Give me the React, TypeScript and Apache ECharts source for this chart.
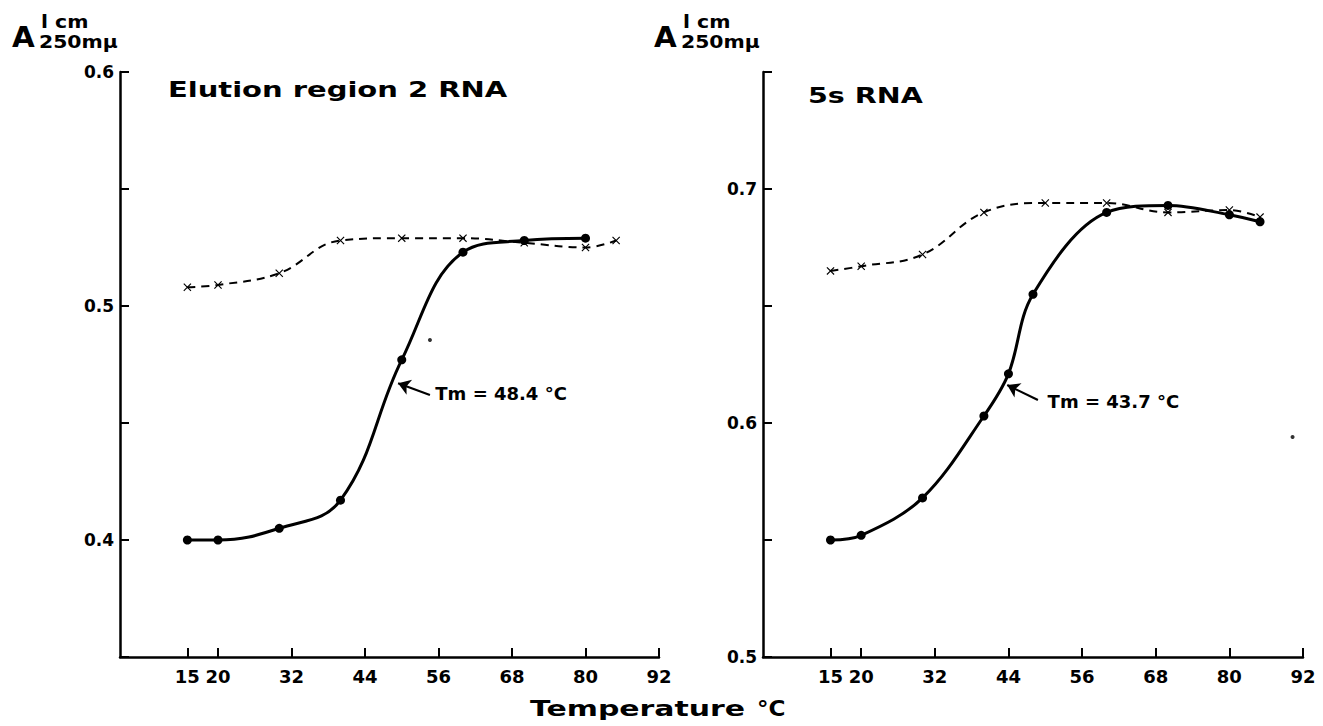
import { useEffect, useRef } from "react";
import * as echarts from "echarts";

// ---- data ----
const xTickValues = [15, 20, 32, 44, 56, 68, 80, 92];

const leftNativeTemps = [15, 20, 30, 40, 50, 60, 70, 80];
const leftNativeA = [0.4, 0.4, 0.405, 0.417, 0.477, 0.523, 0.528, 0.529];
const leftDenatTemps = [15, 20, 30, 40, 50, 60, 70, 80, 85];
const leftDenatA = [0.508, 0.509, 0.514, 0.528, 0.529, 0.529, 0.527, 0.525, 0.528];

const rightNativeTemps = [15, 20, 30, 40, 44, 48, 60, 70, 80, 85];
const rightNativeA = [0.55, 0.552, 0.568, 0.603, 0.621, 0.655, 0.69, 0.693, 0.689, 0.686];
const rightDenatTemps = [15, 20, 30, 40, 50, 60, 70, 80, 85];
const rightDenatA = [0.665, 0.667, 0.672, 0.69, 0.694, 0.694, 0.69, 0.691, 0.688];

const leftSpecks = [[54.6, 0.4855]];
const rightSpecks = [[90.3, 0.594]];

const leftTmLabel = "Tm = 48.4 °C";
const leftTmArrowFrom = [54.6, 0.462];
const leftTmArrowTo = [49.4, 0.467];
const leftTmTextAt = [55.4, 0.4628];

const rightTmLabel = "Tm = 43.7 °C";
const rightTmArrowFrom = [48.8, 0.6098];
const rightTmArrowTo = [43.8, 0.6162];
const rightTmTextAt = [50.3, 0.609];

const leftTitle = "Elution region 2 RNA";
const rightTitle = "5s RNA";
const xAxisTitle = "Temperature";
const xAxisUnit = "°C";

const FONT = "DejaVu Sans";
const CROSS =
  "path://M1,0 L5,4 L9,0 L10,1 L6,5 L10,9 L9,10 L5,6 L1,10 L0,9 L4,5 L0,1 Z";

const zip = (xs: number[], ys: number[]) => xs.map((x, i) => [x, ys[i]]);

const yFormatter = (v: number) => {
  const r = Math.round(v * 100);
  return r % 10 === 0 ? (r / 100).toFixed(1) : "";
};

function makeXAxis(gridIndex: number) {
  return {
    type: "value",
    gridIndex,
    min: 4,
    max: 92,
    axisLine: { show: true, lineStyle: { color: "#000", width: 2.5 } },
    axisTick: {
      show: true,
      inside: true,
      length: 9,
      lineStyle: { color: "#000", width: 2 },
      customValues: xTickValues,
    },
    axisLabel: {
      customValues: xTickValues,
      color: "#000",
      fontSize: 18,
      fontWeight: "bold",
      fontFamily: FONT,
      margin: 10,
    },
    splitLine: { show: false },
  };
}

function makeYAxis(gridIndex: number, min: number, max: number) {
  return {
    type: "value",
    gridIndex,
    min,
    max,
    interval: 0.05,
    axisLine: { show: true, lineStyle: { color: "#000", width: 2.5 } },
    axisTick: {
      show: true,
      inside: true,
      length: 9,
      lineStyle: { color: "#000", width: 2 },
    },
    axisLabel: {
      color: "#000",
      fontSize: 17,
      fontWeight: "bold",
      fontFamily: FONT,
      margin: 6,
      formatter: yFormatter,
      showMinLabel: true,
      showMaxLabel: true,
    },
    splitLine: { show: false },
  };
}

function nativeSeries(idx: number, data: number[][], smooth: number) {
  return {
    type: "line",
    xAxisIndex: idx,
    yAxisIndex: idx,
    data,
    smooth,
    symbol: "circle",
    symbolSize: 9,
    itemStyle: { color: "#000" },
    lineStyle: { color: "#000", width: 3 },
    z: 3,
  };
}

function denatSeries(idx: number, data: number[][]) {
  return {
    type: "line",
    xAxisIndex: idx,
    yAxisIndex: idx,
    data,
    smooth: 0.4,
    symbol: CROSS,
    symbolSize: 8,
    itemStyle: { color: "#000" },
    lineStyle: { color: "#000", width: 2, type: [8, 6] },
    z: 2,
  };
}

function annotationSeries(
  idx: number,
  specks: number[][],
  label: string,
  from: number[],
  to: number[],
  textAt: number[]
) {
  return {
    type: "scatter",
    xAxisIndex: idx,
    yAxisIndex: idx,
    data: specks,
    symbolSize: 4,
    itemStyle: { color: "#000" },
    silent: true,
    markLine: {
      silent: true,
      symbol: ["none", "arrow"],
      symbolSize: 12,
      label: { show: false },
      lineStyle: { color: "#000", width: 2.2, type: "solid" },
      data: [
        [
          { coord: from, symbol: "none" },
          { coord: to, symbol: "arrow", symbolSize: 12 },
        ],
      ],
    },
    markPoint: {
      silent: true,
      symbol: "circle",
      symbolSize: 1,
      itemStyle: { color: "rgba(0,0,0,0)" },
      label: {
        show: true,
        position: "right",
        distance: 0,
        formatter: label,
        color: "#000",
        fontSize: 18,
        fontWeight: "bold",
        fontFamily: FONT,
      },
      data: [{ coord: textAt }],
    },
  };
}

function txt(
  text: string,
  x: number,
  y: number,
  fontSize: number,
  scaleX: number,
  vAlign: string
) {
  return {
    type: "text",
    x,
    y,
    scaleX,
    style: {
      text,
      fontSize,
      fontWeight: "bold",
      fontFamily: FONT,
      fill: "#000",
      textVerticalAlign: vAlign,
    },
  };
}

function absorbanceLabel(x: number) {
  return [
    txt("A", x, 51, 28, 1.05, "bottom"),
    txt("l cm", x + 29, 31, 17, 1.2, "bottom"),
    txt("250mμ", x + 27, 51, 17, 1.2, "bottom"),
  ];
}

export default function App() {
  const ref = useRef<HTMLDivElement>(null);

  useEffect(() => {
    if (!ref.current) return;
    const chart = echarts.init(ref.current, undefined, { renderer: "svg" });
    chart.setOption({
      animation: false,
      backgroundColor: "#fff",
      grid: [
        { left: 120, top: 72, width: 539, height: 585 },
        { left: 763, top: 72, width: 540, height: 585 },
      ],
      xAxis: [makeXAxis(0), makeXAxis(1)],
      yAxis: [makeYAxis(0, 0.35, 0.6), makeYAxis(1, 0.5, 0.75)],
      series: [
        nativeSeries(0, zip(leftNativeTemps, leftNativeA), 0.4),
        denatSeries(0, zip(leftDenatTemps, leftDenatA)),
        nativeSeries(1, zip(rightNativeTemps, rightNativeA), 0.35),
        denatSeries(1, zip(rightDenatTemps, rightDenatA)),
        annotationSeries(0, leftSpecks, leftTmLabel, leftTmArrowFrom, leftTmArrowTo, leftTmTextAt),
        annotationSeries(1, rightSpecks, rightTmLabel, rightTmArrowFrom, rightTmArrowTo, rightTmTextAt),
      ],
      graphic: [
        ...absorbanceLabel(12),
        ...absorbanceLabel(654),
        txt(leftTitle, 168, 90, 21, 1.38, "middle"),
        txt(rightTitle, 808, 96, 21, 1.36, "middle"),
        txt(xAxisTitle, 530, 708, 22, 1.36, "middle"),
        txt(xAxisUnit, 757, 708, 22, 1.05, "middle"),
      ],
    });
    return () => chart.dispose();
  }, []);

  return (
    <div
      ref={ref}
      style={{ position: "absolute", left: 0, top: 0, width: 1323, height: 726 }}
    />
  );
}
